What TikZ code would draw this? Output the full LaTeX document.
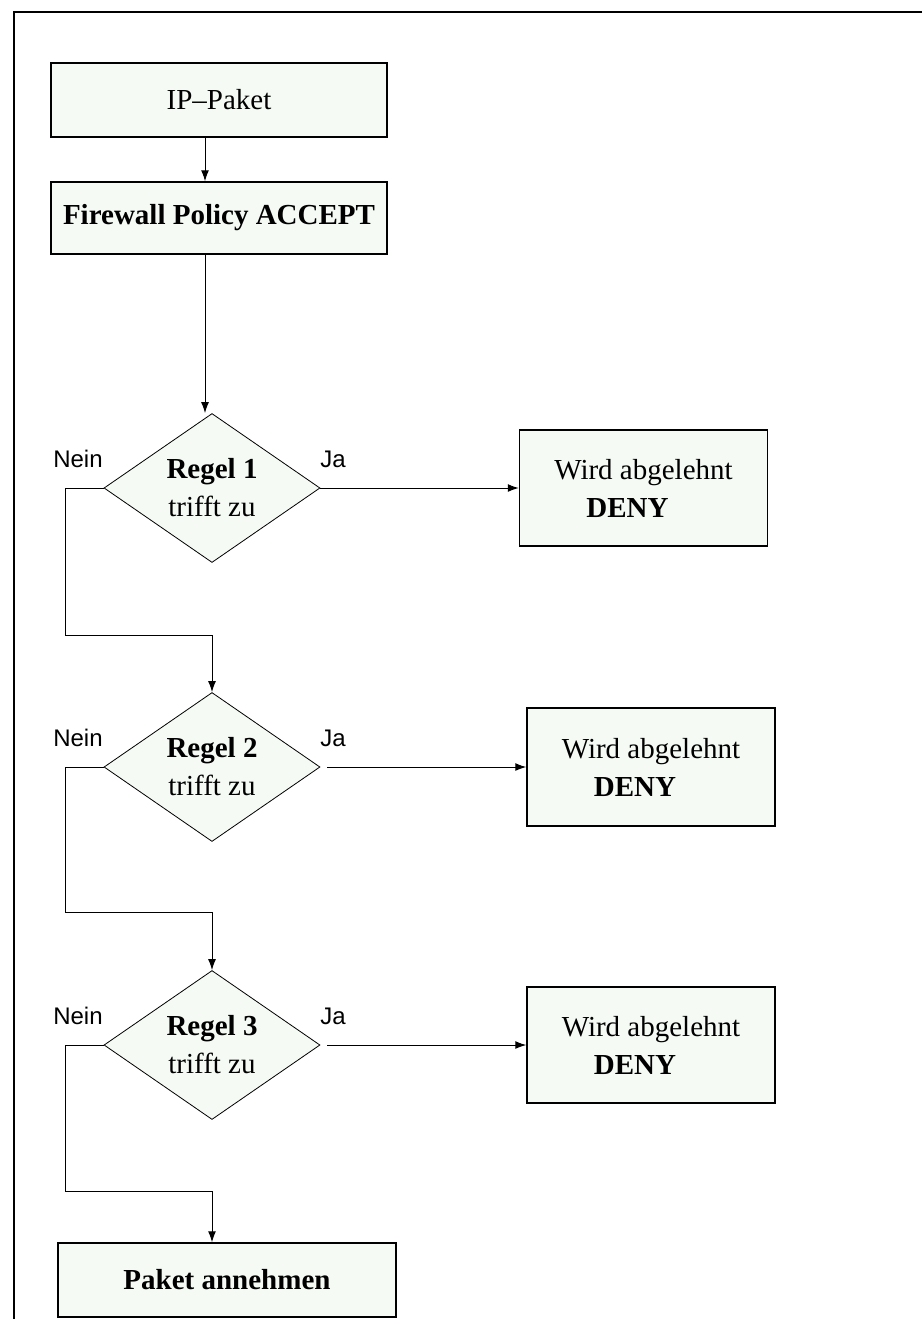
\documentclass[tikz,border=0pt]{standalone}
\usepackage{fontspec}
\setmainfont{Liberation Serif}
\newfontfamily\labelfont{Liberation Sans}
\usetikzlibrary{shapes.geometric,arrows.meta}
\definecolor{boxfill}{RGB}{245,250,245}
\tikzset{
  every node/.style={font=\fontsize{29}{38}\selectfont},
  procbox/.style={draw, line width=1.5pt, fill=boxfill, inner sep=0pt, align=center},
  denybox/.style={procbox, minimum width=248pt, minimum height=116pt},
  decision/.style={diamond, draw, line width=0.8pt, fill=boxfill, inner sep=0pt, aspect=1.45,
    minimum width=216pt, minimum height=149pt, align=center},
  lbl/.style={font=\labelfont\fontsize{24}{26}\selectfont, inner sep=0pt},
  conn/.style={line width=1pt},
  arr/.style={conn, -{Latex[length=11pt,width=8pt]}},
}
\begin{document}
\begin{tikzpicture}[x=1pt,y=-1pt]
\useasboundingbox (0,0) rectangle (922,1319);
% frame
\coordinate (ftl) at (14,12);
\coordinate (ftr) at (922,12);
\coordinate (fbl) at (14,1319);
\draw[line width=2pt] (ftr) -- (ftl) -- (fbl);

\node[procbox, minimum width=336pt, minimum height=74pt] (ip) at (219,100) {IP--Paket};
\node[procbox, minimum width=336pt, minimum height=72pt] (fw) at (219,218) {\textbf{Firewall Policy ACCEPT}};

\node[decision] (d1) at (212,488) {\textbf{Regel 1}\\trifft zu};
\node[decision] (d2) at (212,767) {\textbf{Regel 2}\\trifft zu};
\node[decision] (d3) at (212,1045) {\textbf{Regel 3}\\trifft zu};

\node[denybox] (n1) at (643.5,488) {Wird abgelehnt\\\textbf{DENY}\hspace*{32pt}};
\node[denybox, minimum height=118pt] (n2) at (651,767) {Wird abgelehnt\\\textbf{DENY}\hspace*{32pt}};
\node[denybox] (n3) at (651,1045) {Wird abgelehnt\\\textbf{DENY}\hspace*{32pt}};

\node[procbox, minimum width=338pt, minimum height=74pt] (acc) at (227,1280) {\textbf{Paket annehmen}};

% labels
\node[lbl] (nein1) at (78,459) {Nein};
\node[lbl] (ja1) at (333,459) {Ja};
\node[lbl] (nein2) at (78,738) {Nein};
\node[lbl] (ja2) at (333,738) {Ja};
\node[lbl] (nein3) at (78,1016) {Nein};
\node[lbl] (ja3) at (333,1016) {Ja};

% main flow
\coordinate (cx) at (205,0);
\draw[arr] (ip.south -| cx) -- (fw.north -| cx);
\draw[arr] (fw.south -| cx) -- (d1.north -| cx);

% Ja branches
\draw[arr] (d1.east) -- (n1.west);
\draw[arr, shorten <=7pt] (d2.east) -- (n2.west);
\draw[arr, shorten <=7pt] (d3.east) -- (n3.west);

% Nein branches
\coordinate (b1) at (65,635);
\coordinate (b2) at (65,912);
\coordinate (b3) at (65,1191);
\draw[arr] (d1.west) -| (b1) -- (b1 -| d2.north) -- (d2.north);
\draw[arr] (d2.west) -| (b2) -- (b2 -| d3.north) -- (d3.north);
\draw[arr] (d3.west) -| (b3) -- (b3 -| d3.north) -- (acc.north -| d3.north);
\end{tikzpicture}
\end{document}
